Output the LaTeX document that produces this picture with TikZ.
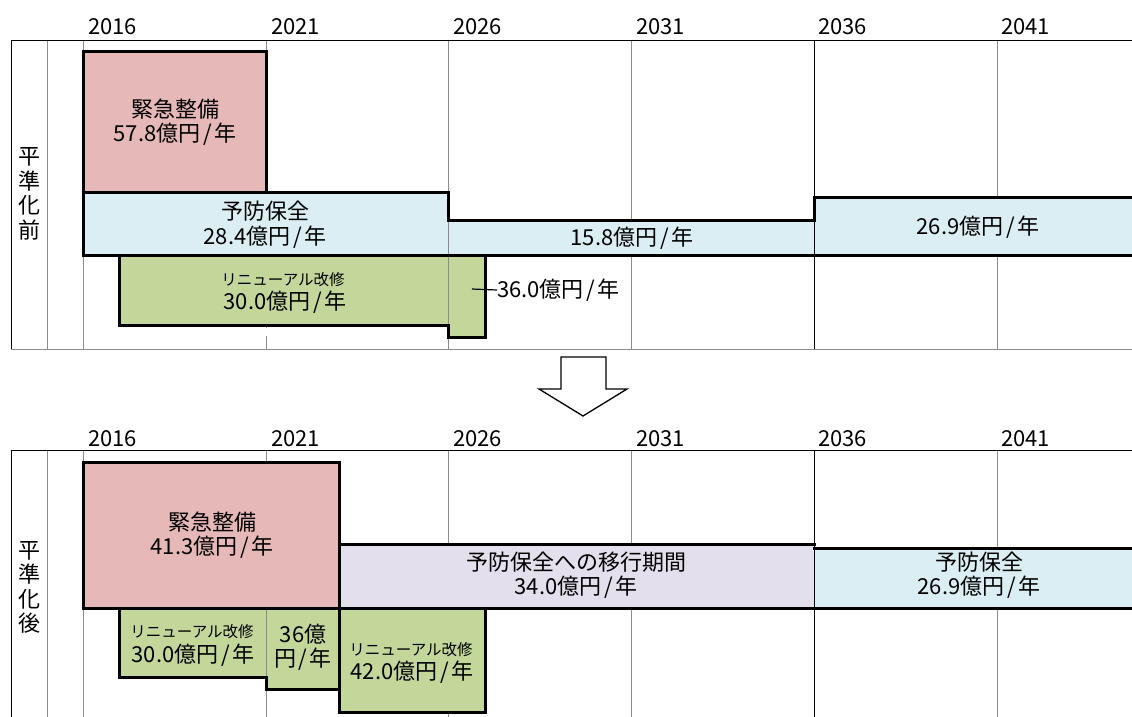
\documentclass[tikz,border=0pt]{standalone}
\usepackage{fontspec}
\setmainfont{Noto Sans CJK JP}
\definecolor{cred}{HTML}{E6B8B7}
\definecolor{cblue}{HTML}{DAEEF3}
\definecolor{cgreen}{HTML}{C4D79B}
\definecolor{cpurple}{HTML}{E4DFEC}
\definecolor{cgrid}{HTML}{8C8C8C}
\newcommand{\slh}{\hspace{0.12em}/\hspace{0.12em}}
\tikzset{
  gridg/.style={draw=cgrid, line width=0.9pt},
  gridk/.style={draw=black, line width=0.9pt},
  outl/.style={draw=black, line width=3pt, line join=miter, line cap=rect},
  big/.style={font=\fontsize{22}{24.5}\selectfont, inner sep=0pt, align=center},
  small/.style={font=\fontsize{15.5}{18}\selectfont, inner sep=0pt},
  yr/.style={font=\fontsize{22}{24}\selectfont, anchor=base west, inner sep=0pt},
}
\begin{document}
\begin{tikzpicture}[x=1pt,y=-1pt]
\useasboundingbox (0,0) rectangle (1132,717);
% ---------------- top panel grid
\foreach \x in {47,83,266,448,631,997} \draw[gridg] (\x,40) -- (\x,349);
\draw[gridk] (11,40) -- (11,349);
\draw[gridk] (814,40) -- (814,349);
\draw[gridk] (11,40) -- (1140,40);
\draw[gridg] (11,349) -- (1140,349);
\node[yr] (ya1) at (88,35) {2016};
\node[yr] (ya2) at (271,35) {2021};
\node[yr] (ya3) at (453,35) {2026};
\node[yr] (ya4) at (636,35) {2031};
\node[yr] (ya5) at (818,35) {2036};
\node[yr] (ya6) at (1001,35) {2041};
% fills
\fill[cred] (83,52) rectangle (266,192);
\fill[cblue] (83,192) -- (448,192) -- (448,220) -- (814,220) -- (814,197) -- (1140,197) -- (1140,255) -- (83,255) -- cycle;
\fill[cgreen] (119,255) -- (485,255) -- (485,337) -- (448,337) -- (448,325) -- (119,325) -- cycle;
\draw[gridg] (448,220) -- (448,325);
\draw[gridk] (814,220) -- (814,255);
\draw[white, line width=2pt] (266,328) -- (266,336);
% outlines
\draw[outl] (83,52) rectangle (266,192);
\draw[outl] (83,255) -- (83,192) -- (448,192) -- (448,220) -- (814,220) -- (814,197) -- (1140,197);
\draw[outl] (83,255) -- (1140,255);
\draw[outl] (119,255) -- (119,325) -- (448,325) -- (448,337) -- (485,337) -- (485,255);
% texts
\node[big] (t1) at (175,122) {緊急整備\\57.8億円\slh 年};
\node[big] (t2) at (265,224.5) {予防保全\\28.4億円\slh 年};
\node[big] (t3) at (632,238) {15.8億円\slh 年};
\node[big] (t4) at (978,227) {26.9億円\slh 年};
\node[small] (t5) at (283,280) {リニューアル改修};
\node[big] (t6) at (285,302) {30.0億円\slh 年};
\node[big, anchor=west] (t7) at (497,290) {36.0億円\slh 年};
\coordinate (c7) at (472,289);
\draw[line width=1.2pt] (c7) -- (t7.west);
\node[big] (s1) at (29,194) {平\\準\\化\\前};
% ---------------- arrow
\draw[line width=1.3pt, fill=white, line join=miter] (561,357) -- (606,357) -- (606,389) -- (627,389) -- (583,416) -- (539,389) -- (561,389) -- cycle;
% ---------------- bottom panel grid
\foreach \x in {47,83,266,448,631,997} \draw[gridg] (\x,450) -- (\x,720);
\draw[gridk] (11,450) -- (11,720);
\draw[gridk] (814,450) -- (814,720);
\draw[gridk] (11,450) -- (1140,450);
\node[yr] (yb1) at (88,446) {2016};
\node[yr] (yb2) at (271,446) {2021};
\node[yr] (yb3) at (453,446) {2026};
\node[yr] (yb4) at (636,446) {2031};
\node[yr] (yb5) at (818,446) {2036};
\node[yr] (yb6) at (1001,446) {2041};
% fills
\fill[cred] (83,462) rectangle (339,608);
\fill[cpurple] (339,544) rectangle (814,608);
\fill[cblue] (814,548) rectangle (1140,608);
\fill[cgreen] (119,608) -- (485,608) -- (485,712) -- (339,712) -- (339,689) -- (266,689) -- (266,677) -- (119,677) -- cycle;
\draw[gridg] (266,608) -- (266,677);
\draw[gridk] (814,544) -- (814,608);
% outlines
\draw[outl] (83,462) rectangle (339,608);
\draw[outl] (339,544) -- (814,544);
\draw[outl] (814,548) -- (1140,548);
\draw[outl] (83,608) -- (1140,608);
\draw[outl] (119,608) -- (119,677) -- (266,677) -- (266,689) -- (339,689) -- (339,712) -- (485,712) -- (485,608);
\draw[outl] (339,608) -- (339,689);
% texts
\node[big] (u1) at (212,535) {緊急整備\\41.3億円\slh 年};
\node[big] (u2) at (576,575) {予防保全への移行期間\\34.0億円\slh 年};
\node[big] (u3) at (979,575) {予防保全\\26.9億円\slh 年};
\node[small] (u4) at (192,632) {リニューアル改修};
\node[big] (u5) at (193,655) {30.0億円\slh 年};
\node[big] (u6) at (303,647.5) {36億\\円\slh 年};
\node[small] (u7) at (411,650) {リニューアル改修};
\node[big] (u8) at (412,672) {42.0億円\slh 年};
\node[big] (s2) at (29,587.5) {平\\準\\化\\後};
\end{tikzpicture}
\end{document}
